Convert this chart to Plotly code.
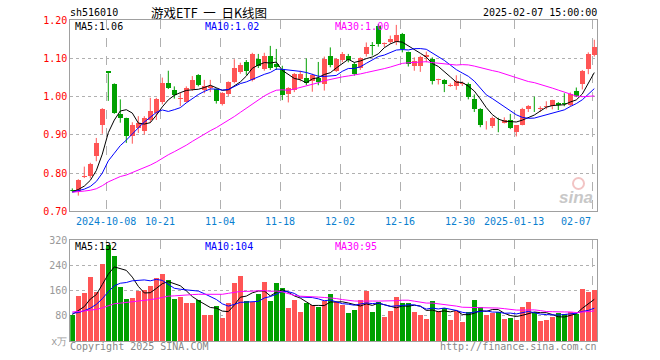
import plotly.graph_objects as go

# ---------------- data ----------------
dates = (
    ["2024-09-23", "2024-09-24", "2024-09-25", "2024-09-26", "2024-09-27", "2024-09-30"]
    + ["2024-10-" + d for d in ["08", "09", "10", "11", "14", "15", "16", "17", "18", "21",
                                "22", "23", "24", "25", "28", "29", "30", "31"]]
    + ["2024-11-" + d for d in ["01", "04", "05", "06", "07", "08", "11", "12", "13", "14", "15",
                                "18", "19", "20", "21", "22", "25", "26", "27", "28", "29"]]
    + ["2024-12-" + d for d in ["02", "03", "04", "05", "06", "09", "10", "11", "12", "13", "16",
                                "17", "18", "19", "20", "23", "24", "25", "26", "27", "30", "31"]]
    + ["2025-01-" + d for d in ["02", "03", "06", "07", "08", "09", "10", "13", "14", "15", "16",
                                "17", "20", "21", "22", "23", "24", "27"]]
    + ["2025-02-05", "2025-02-06", "2025-02-07"]
)

opens = [0.757, 0.752, 0.790, 0.793, 0.844, 0.927, 1.066, 1.032, 0.954, 0.943,
         0.896, 0.918, 0.910, 0.940, 0.958, 0.986, 1.035, 1.017, 0.995, 0.986,
         1.019, 1.057, 1.018, 1.022, 1.019, 0.982, 1.006, 1.038, 1.064, 1.090,
         1.043, 1.100, 1.072, 1.107, 1.085, 1.072, 1.006, 1.017, 1.047, 1.048,
         1.042, 1.050, 1.033, 1.107, 1.068, 1.095, 1.107, 1.085, 1.076, 1.111,
         1.136, 1.186, 1.137, 1.142, 1.142, 1.164, 1.116, 1.081, 1.081, 1.105,
         1.098, 1.045, 1.044, 1.029, 1.028, 1.032, 1.032, 0.995, 0.967, 0.925,
         0.923, 0.942, 0.932, 0.938, 0.907, 0.927, 0.967, 0.974, 0.968, 0.973,
         0.975, 0.984, 0.982, 0.977, 1.015, 1.033, 1.072, 1.110]
highs = [0.760, 0.784, 0.817, 0.827, 0.892, 0.970, 1.066, 1.035, 0.993, 0.945,
         0.933, 0.949, 0.949, 0.997, 0.997, 1.050, 1.068, 1.027, 1.011, 1.027,
         1.054, 1.059, 1.044, 1.044, 1.022, 1.012, 1.040, 1.098, 1.089, 1.096,
         1.115, 1.112, 1.115, 1.133, 1.125, 1.081, 1.025, 1.062, 1.068, 1.100,
         1.060, 1.091, 1.105, 1.129, 1.101, 1.117, 1.112, 1.090, 1.103, 1.142,
         1.143, 1.190, 1.142, 1.160, 1.188, 1.167, 1.118, 1.103, 1.107, 1.118,
         1.103, 1.047, 1.046, 1.035, 1.056, 1.040, 1.037, 1.006, 0.970, 0.936,
         0.948, 0.945, 0.946, 0.955, 0.926, 0.971, 0.978, 1.000, 0.975, 0.988,
         0.992, 0.986, 1.009, 1.011, 1.024, 1.070, 1.116, 1.149]
lows = [0.752, 0.741, 0.787, 0.786, 0.831, 0.903, 0.989, 0.955, 0.932, 0.879,
        0.877, 0.905, 0.901, 0.932, 0.939, 0.980, 1.020, 0.995, 0.975, 0.985,
        1.015, 1.027, 1.009, 1.012, 0.982, 0.977, 1.002, 1.035, 1.060, 1.057,
        1.040, 1.075, 1.068, 1.070, 1.070, 0.991, 0.985, 1.012, 1.040, 1.030,
        1.013, 1.030, 1.016, 1.077, 1.065, 1.090, 1.090, 1.055, 1.070, 1.105,
        1.108, 1.131, 1.130, 1.138, 1.135, 1.116, 1.079, 1.068, 1.065, 1.090,
        1.032, 1.032, 1.012, 1.026, 1.018, 1.028, 0.993, 0.960, 0.920, 0.914,
        0.918, 0.907, 0.930, 0.915, 0.896, 0.925, 0.960, 0.960, 0.960, 0.967,
        0.967, 0.965, 0.975, 0.975, 0.999, 1.019, 1.059, 1.105]
closes = [0.754, 0.782, 0.793, 0.825, 0.879, 0.969, 1.063, 0.958, 0.944, 0.896,
          0.925, 0.932, 0.945, 0.962, 0.993, 1.035, 1.024, 1.004, 0.997, 1.022,
          1.044, 1.030, 1.027, 1.027, 0.989, 1.010, 1.038, 1.074, 1.082, 1.066,
          1.112, 1.080, 1.107, 1.076, 1.078, 1.004, 1.022, 1.059, 1.059, 1.037,
          1.056, 1.039, 1.100, 1.082, 1.099, 1.112, 1.096, 1.060, 1.101, 1.129,
          1.134, 1.137, 1.140, 1.151, 1.161, 1.125, 1.085, 1.094, 1.104, 1.110,
          1.041, 1.047, 1.032, 1.030, 1.041, 1.036, 1.000, 0.967, 0.927, 0.927,
          0.945, 0.941, 0.940, 0.918, 0.925, 0.969, 0.975, 0.973, 0.970, 0.975,
          0.991, 0.978, 0.981, 1.006, 1.002, 1.068, 1.111, 1.129]
volumes = [82, 142, 152, 203, 155, 243, 305, 268, 171, 132,
           136, 159, 163, 175, 200, 211, 192, 132, 140, 120,
           120, 129, 81, 81, 110, 73, 120, 185, 206, 127,
           125, 148, 187, 127, 184, 168, 106, 130, 92, 121,
           113, 108, 127, 148, 123, 115, 89, 98, 129, 157,
           91, 124, 76, 95, 140, 120, 120, 92, 82, 70,
           126, 94, 105, 66, 94, 60, 91, 129, 107, 82,
           89, 91, 70, 72, 66, 107, 123, 91, 62, 66,
           77, 88, 87, 92, 87, 164, 155, 162]

# moving-average values at the start of the window (they
# depend on sessions before the first visible candle)
ma5_head = [0.751, 0.757, 0.766, 0.781]
ma10_head = [0.750, 0.754, 0.758, 0.765, 0.778, 0.800, 0.832, 0.852, 0.872]
ma30_head = [0.750, 0.751, 0.753, 0.755, 0.759, 0.767, 0.777, 0.784, 0.791, 0.795,
             0.801, 0.807, 0.814, 0.821, 0.829, 0.839, 0.848, 0.856, 0.864, 0.873,
             0.883, 0.893, 0.902, 0.911, 0.919, 0.928, 0.937, 0.948, 0.959]
vol_ma5_head = [84, 96, 109, 133]
vol_ma10_head = [88, 90, 96, 104, 116, 134, 156, 175, 183]
vol_ma30_head = [92, 93, 95, 98, 100, 105, 112, 118, 120, 122,
                 123, 126, 128, 131, 134, 138, 142, 143, 145, 146,
                 147, 148, 148, 148, 148, 148, 151, 155, 157]

price_ticks = [0.70, 0.80, 0.90, 1.00, 1.10, 1.20]
vol_ticks = [0, 80, 160, 240, 320]
vol_tick_text = ["x万", "80", "160", "240", "320"]
tick_dates = ["2024-10-08", "2024-10-21", "2024-11-04", "2024-11-18", "2024-12-02",
              "2024-12-16", "2024-12-30", "2025-01-13", "2025-02-07"]
tick_labels = ["2024-10-08", "10-21", "11-04", "11-18", "12-02",
               "12-16", "12-30", "2025-01-13", "02-07"]

code = "sh516010"
title = "游戏ETF\u00a0\u00a0一\u00a0\u00a0日K线图"
stamp = "2025-02-07 15:00:00"


def moving_avg(vals, n, head):
    out = list(head)
    for i in range(len(head), len(vals)):
        out.append(sum(vals[i - n + 1:i + 1]) / n)
    return out


# ---------------- geometry ----------------
W, H = 660, 360
PX_L, PX_R = 70.3, 597.0
MAIN_T, MAIN_B = 20.3, 211.3
VOL_T, VOL_B = 240.0, 341.0


def px(x):
    return x / W


def py(y):
    return 1 - y / H


n = len(dates)
xs = list(range(n))
grid_pos = [dates.index(d) - 1 / 3 for d in tick_dates]

RED = "#ff5555"
GREEN = "#00a000"
MONO = "DejaVu Sans Mono"

ma5 = moving_avg(closes, 5, ma5_head)
ma10 = moving_avg(closes, 10, ma10_head)
ma30 = moving_avg(closes, 30, ma30_head)
vma5 = moving_avg(volumes, 5, vol_ma5_head)
vma10 = moving_avg(volumes, 10, vol_ma10_head)
vma30 = moving_avg(volumes, 30, vol_ma30_head)

up = [c >= o for o, c in zip(opens, closes)]
cols = [RED if u else GREEN for u in up]

fig = go.Figure()
# wicks
for flag, col in [(True, RED), (False, GREEN)]:
    wx, wy = [], []
    for i in xs:
        if up[i] == flag:
            wx += [i, i, None]
            wy += [lows[i], highs[i], None]
    fig.add_trace(go.Scatter(x=wx, y=wy, mode="lines", line=dict(color=col, width=1),
                             xaxis="x", yaxis="y", hoverinfo="skip"))
# bodies
fig.add_trace(go.Bar(
    x=xs, base=[min(o, c) for o, c in zip(opens, closes)],
    y=[max(abs(c - o), 0.0013) for o, c in zip(opens, closes)],
    marker=dict(color=cols, line=dict(width=0)), width=0.8,
    xaxis="x", yaxis="y", hoverinfo="skip"))
for vals, col in [(ma5, "black"), (ma10, "#0000ff"), (ma30, "#ff00ff")]:
    fig.add_trace(go.Scatter(x=xs, y=vals, mode="lines", line=dict(color=col, width=1),
                             xaxis="x", yaxis="y", hoverinfo="skip"))

fig.add_trace(go.Bar(x=xs, y=volumes, marker=dict(color=cols, line=dict(width=0)),
                     width=0.82, xaxis="x2", yaxis="y2", hoverinfo="skip"))
for vals, col in [(vma5, "black"), (vma10, "#0000ff"), (vma30, "#ff00ff")]:
    fig.add_trace(go.Scatter(x=xs, y=vals, mode="lines", line=dict(color=col, width=1),
                             xaxis="x2", yaxis="y2", hoverinfo="skip"))

xr = [-1 / 3, (PX_R - 72.3) / 6]
common_x = dict(range=xr, tickvals=grid_pos, showticklabels=False, ticks="",
                showgrid=True, gridcolor="#b0b0b0", griddash="dash", gridwidth=1,
                showline=True, mirror=True, linecolor="#a0a0a0", linewidth=1,
                zeroline=False, fixedrange=True, automargin=False)
common_y = dict(ticks="", showgrid=True, gridcolor="#b0b0b0", griddash="dot", gridwidth=1,
                showline=True, mirror=True, linecolor="#a0a0a0", linewidth=1,
                zeroline=False, fixedrange=True, automargin=False)
fig.update_layout(
    template="none",
    width=W, height=H, margin=dict(l=0, r=0, t=0, b=0, pad=0), autosize=False,
    paper_bgcolor="white", plot_bgcolor="white", showlegend=False,
    bargap=0, barmode="overlay",
    xaxis=dict(domain=[px(PX_L), px(PX_R)], anchor="y", **common_x),
    xaxis2=dict(domain=[px(PX_L), px(PX_R)], anchor="y2", **common_x),
    yaxis=dict(domain=[py(MAIN_B), py(MAIN_T)], anchor="x", range=[0.70, 1.20],
               tickvals=price_ticks, ticktext=[f"{v:.2f}" for v in price_ticks],
               tickfont=dict(family=MONO, size=10, color="red"), **common_y),
    yaxis2=dict(domain=[py(VOL_B), py(VOL_T)], anchor="x2", range=[0, 320],
                tickvals=vol_ticks, ticktext=vol_tick_text,
                tickfont=dict(family=MONO, size=10, color="#999999"), **common_y),
)

ann = []


def text(x, y, s, color="black", anchor="left", size=10, family=MONO):
    ann.append(dict(x=px(x), y=py(y), xref="paper", yref="paper", text=s, showarrow=False,
                    xanchor=anchor, yanchor="middle", borderpad=0,
                    font=dict(family=family, size=size, color=color)))


# header
text(69, 13, code)
text(150, 13, title, family="Noto Sans CJK SC", size=12.5)
text(597.5, 13, stamp, anchor="right")
# legends
text(74, 26.5, f"MA5:{ma5[-1]:.2f}")
text(204, 26.5, f"MA10:{ma10[-1]:.2f}", color="#0000ff")
text(334, 26.5, f"MA30:{ma30[-1]:.2f}", color="#ff00ff")
text(74, 246.5, f"MA5:{vma5[-1]:.0f}")
text(204, 246.5, f"MA10:{vma10[-1]:.0f}", color="#0000ff")
text(334, 246.5, f"MA30:{vma30[-1]:.0f}", color="#ff00ff")
# footer
text(69, 346.5, "Copyright 2025 SINA.COM", color="#888888")
text(598, 346.5, "http://finance.sina.com.cn", color="#888888", anchor="right")
# date labels under the main panel
for gp, lab in zip(grid_pos, tick_labels):
    last = lab == tick_labels[-1]
    ann.append(dict(x=gp, y=py(221.5), xref="x", yref="paper", text=lab, showarrow=False,
                    xanchor="right" if last else "center", yanchor="middle", borderpad=0,
                    font=dict(family=MONO, size=10, color="#0a7fd0")))
# watermark
text(594, 197, "<b><i>sina</i></b>", color="#c8c8c8", anchor="right", size=17,
     family="Liberation Sans")
fig.update_layout(annotations=ann)
fig.add_shape(type="circle", xref="paper", yref="paper",
              x0=px(573), x1=px(584), y0=py(189), y1=py(178),
              line=dict(color="#f2c4c4", width=2), fillcolor="rgba(0,0,0,0)")

# place the chart flush with the page's top-left corner, no mode bar
fig.write_html("out.html", config={"displayModeBar": False, "staticPlot": True},
               post_script="document.body.style.margin='0';document.body.style.padding='0';")
